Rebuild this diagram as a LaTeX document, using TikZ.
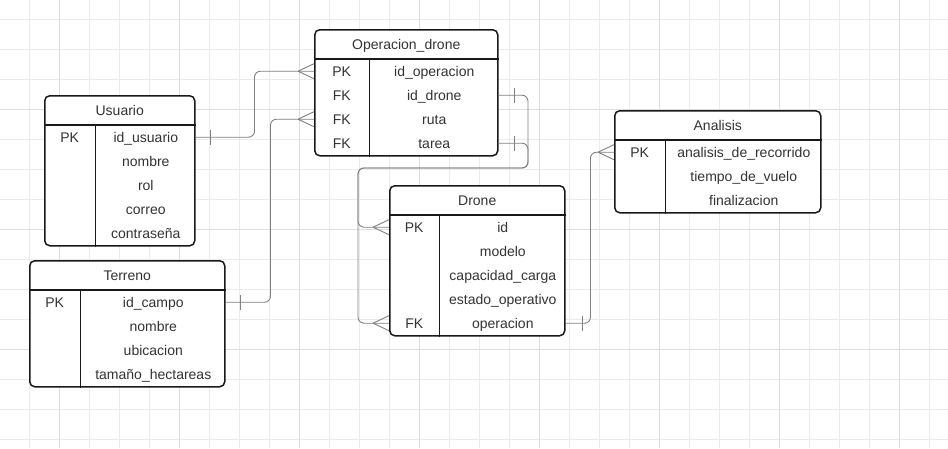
\documentclass[tikz,border=0pt]{standalone}
\usepackage{fontspec}
\setmainfont{Liberation Sans}
\tikzset{
  gridln/.style={draw=black!8, line width=0.8pt},
  gridmaj/.style={draw=black!13, line width=0.8pt},
  tblbox/.style={draw=black!90, line width=1.5pt, rounded corners=5pt, fill=white, anchor=north west, inner sep=0pt},
  hdrline/.style={draw=black!90, line width=1.5pt},
  colline/.style={draw=black!90, line width=1pt},
  cell/.style={inner sep=0pt, minimum height=24pt, text=black!80, font=\fontsize{14}{16}\selectfont, text height=12pt, text depth=1pt},
  keycell/.style={cell, anchor=north west},
  namecell/.style={cell, anchor=north east},
  ttl/.style={cell, minimum height=0pt},
  rel/.style={draw=black!50, line width=0.9pt, rounded corners=6pt},
  crowfoot/.pic={\draw[rel, sharp corners] (-16pt,0pt) -- (0pt,7.5pt) (-16pt,0pt) -- (0pt,-7.5pt);},
  onebar/.pic={\draw[rel, sharp corners] (0pt,-7.5pt) -- (0pt,7.5pt);}
}
\begin{document}
\begin{tikzpicture}[x=1pt, y=-1pt]
\useasboundingbox (0,0) rectangle (948,448);
% background grid
\foreach \gx in {29,59,...,929} \draw[gridln] (\gx,0) -- (\gx,448);
\foreach \gy in {19,49,...,439} \draw[gridln] (0,\gy) -- (948,\gy);
\foreach \gx in {59,179,...,899} \draw[gridmaj] (\gx,0) -- (\gx,448);
\foreach \gy in {109,229,349} \draw[gridmaj] (0,\gy) -- (948,\gy);

% Usuario
\node[tblbox, minimum width=150pt, minimum height=150pt] (usr) at (44,95) {};
\node[ttl] (usr-t) at ([yshift=-15pt]usr.north) {Usuario};
\draw[hdrline] ([yshift=-30pt]usr.north west) -- ([yshift=-30pt]usr.north east);
\draw[colline] ([shift={(51pt,-30pt)}]usr.north west) -- ([xshift=51pt]usr.south west);
\foreach \k/\f [count=\i] in {PK/id\_usuario, /nombre, /rol, /correo, /contraseña} {
  \node[keycell, minimum width=51pt] (usr-k\i) at ([yshift={-30pt-24pt*(\i-1)}]usr.north west) {\k};
  \node[namecell, minimum width=99pt] (usr-n\i) at ([yshift={-30pt-24pt*(\i-1)}]usr.north east) {\f};
}

% Operacion_drone
\node[tblbox, minimum width=183pt, minimum height=126pt] (opd) at (314,29) {};
\node[ttl] (opd-t) at ([yshift=-15pt]opd.north) {Operacion\_drone};
\draw[hdrline] ([yshift=-30pt]opd.north west) -- ([yshift=-30pt]opd.north east);
\draw[colline] ([shift={(55pt,-30pt)}]opd.north west) -- ([xshift=55pt]opd.south west);
\foreach \k/\f [count=\i] in {PK/id\_operacion, FK/id\_drone, FK/ruta, FK/tarea} {
  \node[keycell, minimum width=55pt] (opd-k\i) at ([yshift={-30pt-24pt*(\i-1)}]opd.north west) {\k};
  \node[namecell, minimum width=128pt] (opd-n\i) at ([yshift={-30pt-24pt*(\i-1)}]opd.north east) {\f};
}

% Drone
\node[tblbox, minimum width=175pt, minimum height=150pt] (drn) at (389,185) {};
\node[ttl] (drn-t) at ([yshift=-15pt]drn.north) {Drone};
\draw[hdrline] ([yshift=-30pt]drn.north west) -- ([yshift=-30pt]drn.north east);
\draw[colline] ([shift={(50pt,-30pt)}]drn.north west) -- ([xshift=50pt]drn.south west);
\foreach \k/\f [count=\i] in {PK/id, /modelo, /capacidad\_carga, /estado\_operativo, FK/operacion} {
  \node[keycell, minimum width=50pt] (drn-k\i) at ([yshift={-30pt-24pt*(\i-1)}]drn.north west) {\k};
  \node[namecell, minimum width=125pt] (drn-n\i) at ([yshift={-30pt-24pt*(\i-1)}]drn.north east) {\f};
}

% Analisis
\node[tblbox, minimum width=206pt, minimum height=102pt] (ana) at (614,110) {};
\node[ttl] (ana-t) at ([yshift=-15pt]ana.north) {Analisis};
\draw[hdrline] ([yshift=-30pt]ana.north west) -- ([yshift=-30pt]ana.north east);
\draw[colline] ([shift={(51pt,-30pt)}]ana.north west) -- ([xshift=51pt]ana.south west);
\foreach \k/\f [count=\i] in {PK/analisis\_de\_recorrido, /tiempo\_de\_vuelo, /finalizacion} {
  \node[keycell, minimum width=51pt] (ana-k\i) at ([yshift={-30pt-24pt*(\i-1)}]ana.north west) {\k};
  \node[namecell, minimum width=155pt] (ana-n\i) at ([yshift={-30pt-24pt*(\i-1)}]ana.north east) {\f};
}

% Terreno
\node[tblbox, minimum width=195pt, minimum height=126pt] (ter) at (29,260) {};
\node[ttl] (ter-t) at ([yshift=-15pt]ter.north) {Terreno};
\draw[hdrline] ([yshift=-30pt]ter.north west) -- ([yshift=-30pt]ter.north east);
\draw[colline] ([shift={(51pt,-30pt)}]ter.north west) -- ([xshift=51pt]ter.south west);
\foreach \k/\f [count=\i] in {PK/id\_campo, /nombre, /ubicacion, /tamaño\_hectareas} {
  \node[keycell, minimum width=51pt] (ter-k\i) at ([yshift={-30pt-24pt*(\i-1)}]ter.north west) {\k};
  \node[namecell, minimum width=144pt] (ter-n\i) at ([yshift={-30pt-24pt*(\i-1)}]ter.north east) {\f};
}

% relations
\draw[rel] (usr-n1.east) -- ++(59,0) |- (opd-k1.west);
\pic at ([xshift=15pt]usr-n1.east) {onebar};
\pic at (opd-k1.west) {crowfoot};

\draw[rel] (ter-n1.east) -- ++(45,0) |- (opd-k3.west);
\pic at ([xshift=15pt]ter-n1.east) {onebar};
\pic at (opd-k3.west) {crowfoot};

\coordinate (bendR) at (528,168);
\coordinate (bendL) at (358,168);
\draw[rel] (opd-n2.east) -| (bendR) -- (bendL) |- (drn-k1.west);
\draw[rel] (opd-n4.east) -| (bendR) -- (bendL) |- (drn-k5.west);
\pic at ([xshift=16pt]opd-n2.east) {onebar};
\pic at ([xshift=16pt]opd-n4.east) {onebar};
\pic at (drn-k1.west) {crowfoot};
\pic at (drn-k5.west) {crowfoot};

\draw[rel] (drn-n5.east) -- ++(25,0) |- (ana-k1.west);
\pic at ([xshift=17pt]drn-n5.east) {onebar};
\pic at (ana-k1.west) {crowfoot};
\end{tikzpicture}
\end{document}
